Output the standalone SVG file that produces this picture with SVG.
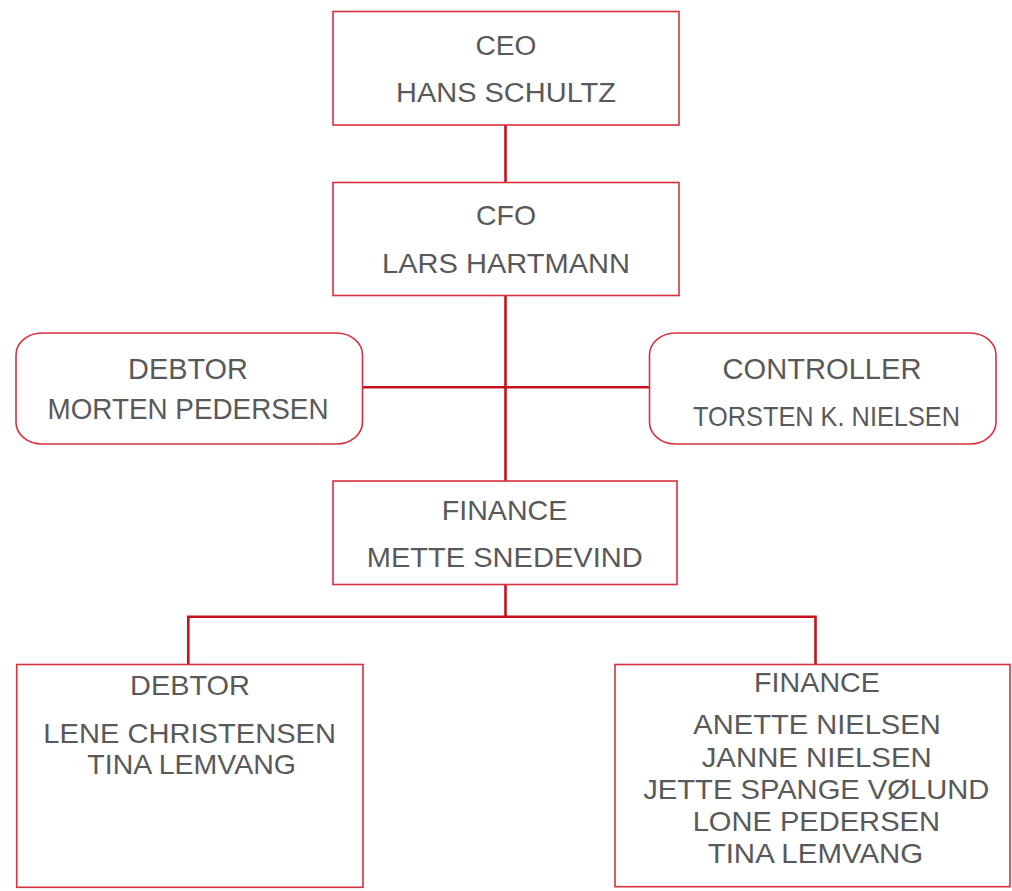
<svg xmlns="http://www.w3.org/2000/svg" width="1012" height="891" viewBox="0 0 1012 891">
<style>
.box{fill:#fff;stroke:#d7303e;stroke-width:1.6}
.ln{fill:none;stroke:#c8101f;stroke-width:2.6}
text{font-family:"Liberation Sans",Arial,sans-serif;fill:#595959;text-anchor:middle;font-size:28px}
</style>
<rect width="1012" height="891" fill="#fff"/>
<g id="connectors">
<line class="ln" x1="505.5" y1="125" x2="505.5" y2="182"/>
<line class="ln" x1="505.5" y1="296" x2="505.5" y2="481"/>
<line class="ln" x1="362" y1="387.3" x2="649.5" y2="387.3"/>
<line class="ln" x1="505.5" y1="584.5" x2="505.5" y2="616.7"/>
<polyline class="ln" points="188.3,664.5 188.3,616.7 815.5,616.7 815.5,664.5"/>
</g>
<g id="ceo">
<rect class="box" x="333" y="11.5" width="346" height="113.5"/>
<text x="506" y="54.5" textLength="61" lengthAdjust="spacingAndGlyphs" style="font-size:27px">CEO</text>
<text x="506" y="102" textLength="220" lengthAdjust="spacingAndGlyphs" style="font-size:27px">HANS SCHULTZ</text>
</g>
<g id="cfo">
<rect class="box" x="333" y="182.5" width="346" height="113"/>
<text x="506" y="225" textLength="60" lengthAdjust="spacingAndGlyphs">CFO</text>
<text x="506" y="272.5" textLength="248" lengthAdjust="spacingAndGlyphs">LARS HARTMANN</text>
</g>
<g id="debtor-head">
<rect class="box" x="16" y="333" width="346.5" height="111" rx="26" ry="22"/>
<text x="188" y="379" textLength="120" lengthAdjust="spacingAndGlyphs" style="font-size:29px">DEBTOR</text>
<text x="188" y="419" textLength="281" lengthAdjust="spacingAndGlyphs" style="font-size:29px">MORTEN PEDERSEN</text>
</g>
<g id="controller">
<rect class="box" x="649.5" y="333" width="346.5" height="111" rx="26" ry="22"/>
<text x="822" y="379" textLength="199" lengthAdjust="spacingAndGlyphs" style="font-size:29px">CONTROLLER</text>
<text x="826.5" y="426" textLength="267" lengthAdjust="spacingAndGlyphs">TORSTEN K. NIELSEN</text>
</g>
<g id="finance-head">
<rect class="box" x="333" y="481" width="344" height="103.5"/>
<text x="504.5" y="520" textLength="125.5" lengthAdjust="spacingAndGlyphs">FINANCE</text>
<text x="504.7" y="566.5" textLength="276" lengthAdjust="spacingAndGlyphs">METTE SNEDEVIND</text>
</g>
<g id="debtor-team">
<rect class="box" x="16.7" y="664.5" width="346.3" height="222.8"/>
<text x="190" y="695" textLength="120" lengthAdjust="spacingAndGlyphs">DEBTOR</text>
<text x="189.7" y="743" textLength="292.7" lengthAdjust="spacingAndGlyphs">LENE CHRISTENSEN</text>
<text x="191.7" y="774" textLength="208.7" lengthAdjust="spacingAndGlyphs">TINA LEMVANG</text>
</g>
<g id="finance-team">
<rect class="box" x="615" y="664.5" width="395" height="222.2"/>
<text x="817" y="692" textLength="126" lengthAdjust="spacingAndGlyphs">FINANCE</text>
<text x="817" y="734" textLength="247.3" lengthAdjust="spacingAndGlyphs">ANETTE NIELSEN</text>
<text x="816.7" y="766.5" textLength="230" lengthAdjust="spacingAndGlyphs">JANNE NIELSEN</text>
<text x="816.3" y="799" textLength="346" lengthAdjust="spacingAndGlyphs">JETTE SPANGE VØLUND</text>
<text x="816.3" y="831" textLength="247.3" lengthAdjust="spacingAndGlyphs">LONE PEDERSEN</text>
<text x="815.5" y="863" textLength="215.6" lengthAdjust="spacingAndGlyphs">TINA LEMVANG</text>
</g>
</svg>
